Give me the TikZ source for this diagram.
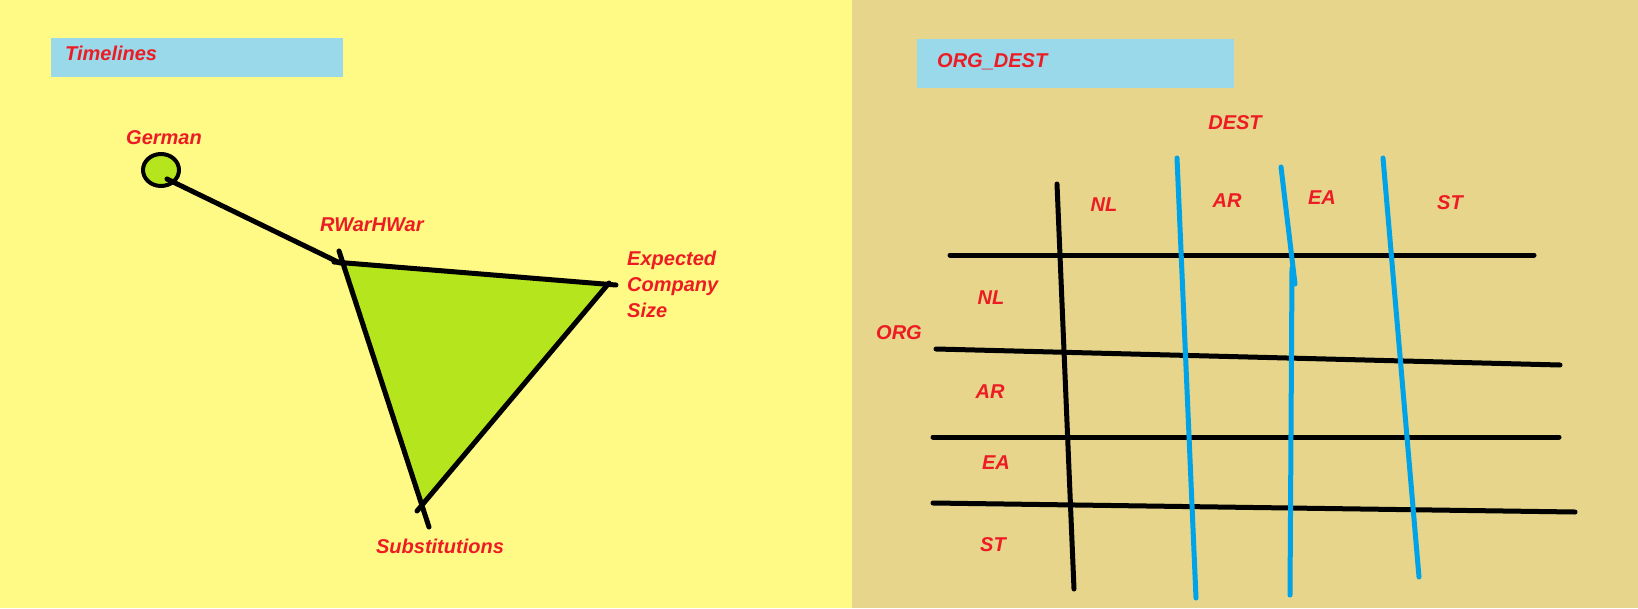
\documentclass[tikz,border=0pt]{standalone}
\usepackage{fontspec}
\setmainfont{Liberation Sans}
\definecolor{bgyellow}{HTML}{FFF985}
\definecolor{bgtan}{HTML}{E6D58A}
\definecolor{boxblue}{HTML}{99D9EA}
\definecolor{paintred}{HTML}{ED1C24}
\definecolor{paintlime}{HTML}{B5E61D}
\definecolor{paintblue}{HTML}{00A2E8}
\tikzset{
  lbl/.style={text=paintred, font=\fontsize{20}{24}\selectfont\bfseries\itshape,
    inner sep=0pt, text height=14.5pt, text depth=0pt},
  pen/.style={line width=5pt, line cap=round, line join=round},
  bluepen/.style={pen, draw=paintblue},
}
\begin{document}
\begin{tikzpicture}[x=1pt,y=-1pt]
\useasboundingbox (0,0) rectangle (1638,608);
\fill[bgyellow] (0,0) rectangle (852,608);
\fill[bgtan] (852,0) rectangle (1638,608);

% timelines
\fill[boxblue] (51,38) rectangle (343,77);
\node[lbl,anchor=west] (timelines) at (65,53) {Timelines};

\node[lbl] (german) at (164,137) {German};
\draw[pen,line width=4pt,fill=paintlime] (161,170) ellipse (18 and 16);
\coordinate (gdot) at (167,179);

\coordinate (rw) at (340,263);
\coordinate (ecs) at (611,284);
\coordinate (sub) at (420,506);
\fill[paintlime] (rw) -- (ecs) -- (sub) -- cycle;
\draw[pen] (gdot) -- (rw);
\draw[pen] (334,262) -- (616,285);
\draw[pen] (609,283) -- (417,511);
\draw[pen] (339,251) -- (429,527);

\node[lbl,anchor=west] (rwarhwar) at (320,224) {RWarHWar};
\node[lbl,anchor=west] (exp1) at (627,258) {Expected};
\node[lbl,anchor=west] (exp2) at (627,284) {Company};
\node[lbl,anchor=west] (exp3) at (627,310) {Size};
\node[lbl] (subst) at (440,546) {Substitutions};

% org_dest
\fill[boxblue] (917,39) rectangle (1234,88);
\node[lbl,anchor=west] (orgdest) at (937,60) {ORG\_DEST};
\node[lbl] (dest) at (1235,122) {DEST};

\draw[pen] (950,255) -- (1534,255);
\draw[pen] (936,349) -- (1560,365);
\draw[pen] (933,437) -- (1559,437);
\draw[pen] (933,503) -- (1575,512);
\draw[pen] (1057,184) -- (1074,589);

\draw[bluepen] (1177,158) -- (1196,598);
\draw[bluepen] (1281,167) -- (1295,284);
\draw[bluepen] (1292,268) -- (1290,595);
\draw[bluepen] (1383,158) -- (1419,577);

\node[lbl] (dnl) at (1104,204) {NL};
\node[lbl] (dar) at (1227,200) {AR};
\node[lbl] (dea) at (1322,197) {EA};
\node[lbl] (dst) at (1450,202) {ST};

\node[lbl] (org) at (899,332) {ORG};
\node[lbl] (onl) at (991,297) {NL};
\node[lbl] (oar) at (990,391) {AR};
\node[lbl] (oea) at (996,462) {EA};
\node[lbl] (ost) at (993,544) {ST};
\end{tikzpicture}
\end{document}
